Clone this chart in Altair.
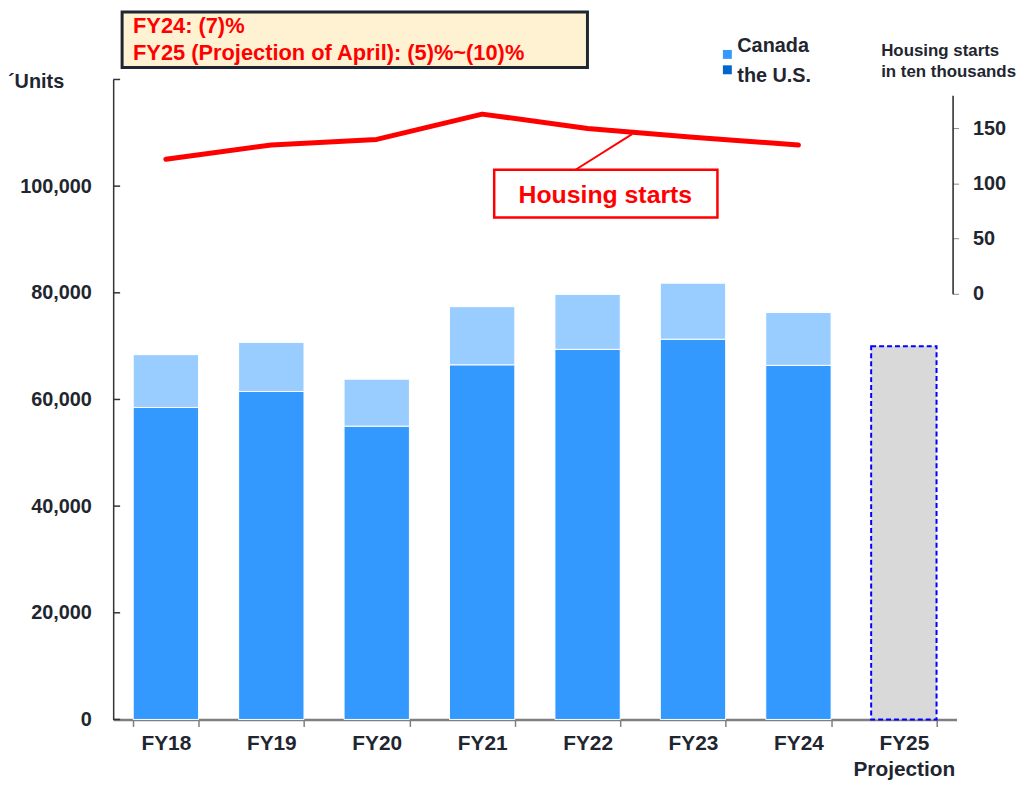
import altair as alt
import pandas as pd

# ---- data ----
categories = ["FY18", "FY19", "FY20", "FY21", "FY22", "FY23", "FY24", "FY25\nProjection"]
us_units = [58500, 61500, 55000, 66500, 69400, 71300, 66400]
canada_units = [9900, 9200, 8800, 10900, 10300, 10500, 9900]
fy25_projection = [70000]
housing_starts = [122, 135, 140, 163, 150, 142, 135]
left_tick_values = [0, 20000, 40000, 60000, 80000, 100000, 120000]
left_label_values = [0, 20000, 40000, 60000, 80000, 100000]
right_label_values = [0, 50, 100, 150]

FONT = "Liberation Sans"
DARK = "#1F2630"
DX = 5

rows = []
for i, c in enumerate(categories[:7]):
    rows.append({"cat": c, "region": "the U.S.", "units": us_units[i], "ord": 0})
    rows.append({"cat": c, "region": "Canada", "units": canada_units[i], "ord": 1})
df_bars = pd.DataFrame(rows)
df_proj = pd.DataFrame({"cat": [categories[7]], "units": fy25_projection})
df_line = pd.DataFrame({"cat": categories[:7], "hs": housing_starts})
df_ticks = pd.DataFrame({"t": left_tick_values})
one = pd.DataFrame({"a": [0]})

x_enc = alt.X(
    "cat:N",
    sort=categories,
    scale=alt.Scale(domain=categories, paddingInner=0.38, paddingOuter=0.19),
    axis=alt.Axis(
        title=None,
        labelAngle=0,
        labelExpr="split(datum.label, '\\n')",
        labelFont=FONT,
        labelFontSize=21,
        labelFontWeight="bold",
        labelColor=DARK,
        labelLineHeight=26,
        labelPadding=6,
        tickBand="extent",
        tickSize=7,
        tickColor="#7F7F7F",
        tickWidth=1.5,
        domainColor="#7F7F7F",
        domainWidth=2.5,
    ),
)

y_left = alt.Y(
    "units:Q",
    stack="zero",
    scale=alt.Scale(domain=[0, 120000], nice=False),
    axis=alt.Axis(
        title=None,
        values=left_label_values,
        format=",.0f",
        tickSize=0,
        labelPadding=22,
        labelFont=FONT,
        labelFontSize=20,
        labelFontWeight="bold",
        labelColor=DARK,
        domainColor="#333333",
        domainWidth=1.5,
    ),
)

bars = alt.Chart(df_bars).mark_bar(stroke="white", strokeWidth=1).encode(
    x=x_enc,
    y=y_left,
    color=alt.Color(
        "region:N",
        scale=alt.Scale(domain=["the U.S.", "Canada"], range=["#3399FF", "#99CCFF"]),
        legend=None,
    ),
    order=alt.Order("ord:Q"),
)

proj = alt.Chart(df_proj).mark_bar(
    fill="#D9D9D9", stroke="#0000FF", strokeWidth=2, strokeDash=[5, 3]
).encode(x=x_enc, y=alt.Y("units:Q"))

ticks = alt.Chart(df_ticks).mark_rule(color="#333333", strokeWidth=1.5).encode(
    y=alt.Y("t:Q"), x=alt.value(0), x2=alt.value(7)
)

# annotation box (top-left)
note_box = alt.Chart(one).mark_rect(fill="#FFF2D2", stroke=DARK, strokeWidth=3).encode(
    x=alt.value(9), x2=alt.value(478), y=alt.value(-68), y2=alt.value(-12)
)
note1 = alt.Chart(one).mark_text(
    text="FY24: (7)%", align="left", baseline="middle", font=FONT,
    fontSize=22, fontWeight="bold", color="#FF0000"
).encode(x=alt.value(20), y=alt.value(-54))
note2 = alt.Chart(one).mark_text(
    text="FY25 (Projection of April): (5)%~(10)%", align="left", baseline="middle",
    font=FONT, fontSize=22, fontWeight="bold", color="#FF0000"
).encode(x=alt.value(20), y=alt.value(-27))

units_label = alt.Chart(one).mark_text(
    text="´Units", align="left", baseline="middle", font=FONT,
    fontSize=20, fontWeight="bold", color=DARK
).encode(x=alt.value(-106), y=alt.value(3))

# legend
leg_sq = alt.Chart(pd.DataFrame({"k": ["Canada", "the U.S."]})).mark_square(
    size=81, opacity=1
).encode(
    x=alt.value(614 + DX),
    y=alt.Y("k:N", scale=alt.Scale(domain=["Canada", "the U.S."], range=[-33, -2]), axis=None),
    color=alt.Color("k:N", scale=alt.Scale(domain=["Canada", "the U.S."], range=["#3399FF", "#0066CC"]), legend=None),
)
leg_t1 = alt.Chart(one).mark_text(
    text="Canada", align="left", baseline="middle", font=FONT,
    fontSize=20, fontWeight="bold", color=DARK
).encode(x=alt.value(624 + DX), y=alt.value(-34))
leg_t2 = alt.Chart(one).mark_text(
    text="the U.S.", align="left", baseline="middle", font=FONT,
    fontSize=20, fontWeight="bold", color=DARK
).encode(x=alt.value(624 + DX), y=alt.value(-3))

# right axis title
rt1 = alt.Chart(one).mark_text(
    text="Housing starts", align="left", baseline="middle", font=FONT,
    fontSize=17, fontWeight="bold", color=DARK
).encode(x=alt.value(774), y=alt.value(-29))
rt2 = alt.Chart(one).mark_text(
    text="in ten thousands", align="left", baseline="middle", font=FONT,
    fontSize=17, fontWeight="bold", color=DARK
).encode(x=alt.value(774), y=alt.value(-7))

# housing starts callout
hs_leader = alt.Chart(one).mark_rule(color="#FF0000", strokeWidth=2).encode(
    x=alt.value(461 + DX), y=alt.value(91), x2=alt.value(518 + DX), y2=alt.value(55)
)
hs_box = alt.Chart(one).mark_rect(fill="white", stroke="#FF0000", strokeWidth=2.5).encode(
    x=alt.value(379 + DX), x2=alt.value(604 + DX), y=alt.value(91), y2=alt.value(139)
)
hs_text = alt.Chart(one).mark_text(
    text="Housing starts", align="center", baseline="middle", font=FONT,
    fontSize=25, fontWeight="bold", color="#FF0000"
).encode(x=alt.value(491 + DX), y=alt.value(116))

left = alt.layer(
    proj, bars, ticks, note_box, note1, note2, units_label,
    leg_t1, leg_t2, rt1, rt2, hs_leader, hs_box, hs_text
)

line = alt.Chart(df_line).mark_line(
    color="#FF0000", strokeWidth=5, strokeCap="round", strokeJoin="round"
).encode(
    x=x_enc,
    y=alt.Y(
        "hs:Q",
        scale=alt.Scale(domain=[0, 180], range=[216, 16], nice=False),
        axis=alt.Axis(
            orient="right",
            offset=-4,
            title=None,
            values=right_label_values,
            tickSize=6,
            tickColor="#888888",
            labelPadding=14,
            labelFont=FONT,
            labelFontSize=20,
            labelFontWeight="bold",
            labelColor=DARK,
            domainColor="#222222",
            domainWidth=1.5,
        ),
    ),
)

chart = (
    alt.layer(left, line, leg_sq)
    .resolve_scale(y="independent", color="independent")
    .properties(
        width=850,
        height=645,
        autosize=alt.AutoSizeParams(type="none"),
        padding={"left": 106, "top": 69, "right": 72, "bottom": 60},
    )
    .configure_view(stroke=None)
    .configure_axis(grid=False)
)

chart.save("out.html", embed_options={"renderer": "svg", "actions": False})
